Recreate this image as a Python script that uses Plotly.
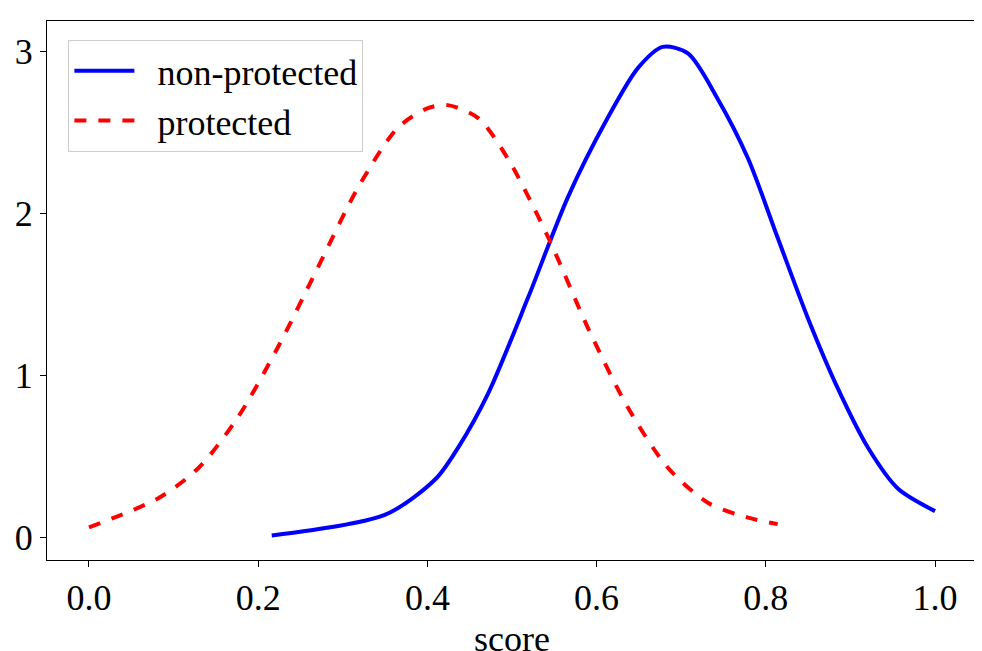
import plotly.graph_objects as go

# density curves
nonprot_x = [0.216, 0.351, 0.41, 0.436, 0.472, 0.519, 0.566, 0.613, 0.649, 0.678,
             0.708, 0.743, 0.779, 0.814, 0.85, 0.885, 0.921, 0.956, 1.0]
nonprot_y = [0.01, 0.14, 0.36, 0.55, 0.89, 1.48, 2.1, 2.59, 2.9, 3.03,
             2.99, 2.71, 2.34, 1.85, 1.35, 0.92, 0.55, 0.30, 0.16]
prot_x = [0.0, 0.082, 0.13, 0.176, 0.223, 0.27, 0.318, 0.365, 0.4, 0.424,
          0.46, 0.495, 0.543, 0.59, 0.637, 0.684, 0.732, 0.779, 0.814]
prot_y = [0.06, 0.24, 0.43, 0.74, 1.17, 1.66, 2.16, 2.53, 2.65, 2.67,
          2.59, 2.34, 1.85, 1.29, 0.8, 0.43, 0.21, 0.12, 0.08]

fig = go.Figure()
fig.add_trace(go.Scatter(x=nonprot_x, y=nonprot_y, mode="lines", name="  non-protected",
                         line=dict(color="blue", width=4, shape="spline", smoothing=0.8)))
fig.add_trace(go.Scatter(x=prot_x, y=prot_y, mode="lines", name="  protected",
                         line=dict(color="red", width=4, dash="dash", shape="spline", smoothing=0.8)))

axis = dict(showgrid=False, zeroline=False, showline=True, linecolor="black", linewidth=1,
            mirror=True, ticks="outside", ticklen=6, tickcolor="black", automargin=False)
fig.update_layout(
    width=982, height=651,
    margin=dict(l=39, r=13, t=13, b=99),
    paper_bgcolor="white", plot_bgcolor="white",
    font=dict(family="Liberation Serif", size=36, color="black"),
    xaxis=dict(axis, range=[-0.0496, 1.0496], tickvals=[0, 0.2, 0.4, 0.6, 0.8, 1.0],
               ticktext=["0.0", "0.2", "0.4", "0.6", "0.8", "1.0"],
               title=dict(text="score", font=dict(size=36), standoff=10)),
    yaxis=dict(axis, range=[-0.142, 3.19], tickvals=[0, 1, 2, 3]),
    legend=dict(x=0.023, y=0.965, xanchor="left", yanchor="top",
                bgcolor="rgba(255,255,255,0.8)", bordercolor="#cccccc", borderwidth=1,
                font=dict(size=36), tracegroupgap=0, itemwidth=60),
)
fig.write_html("out.html")
